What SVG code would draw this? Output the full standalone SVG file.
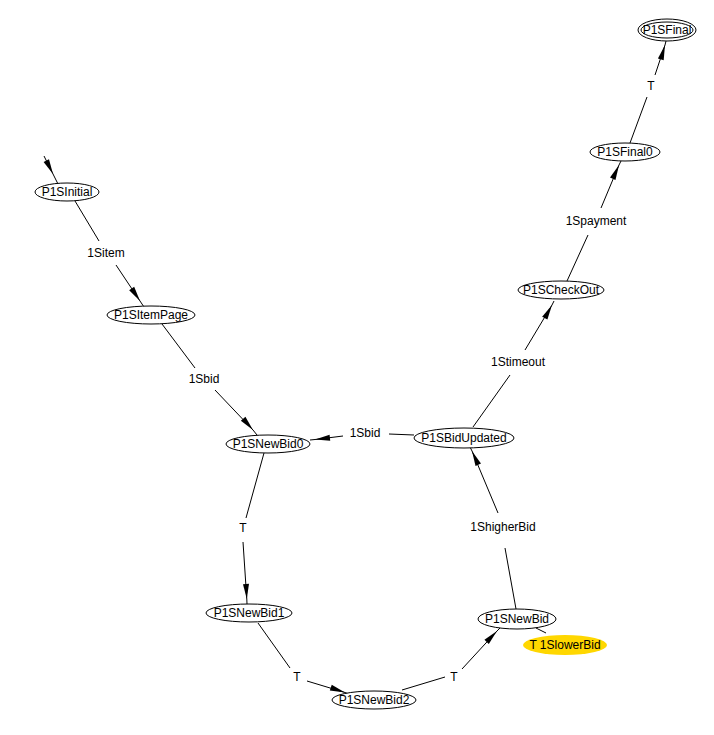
<svg xmlns="http://www.w3.org/2000/svg" width="714" height="735" viewBox="0 0 714 735">
<style>
.n ellipse{fill:#fff;stroke:#000;stroke-width:1}
text{font-family:"Liberation Sans",Arial,sans-serif;font-size:12px;fill:#000;text-anchor:middle}
.e path{fill:none;stroke:#000;stroke-width:1}
.e .a{marker-mid:url(#arr)}
</style>
<defs>
<marker id="arr" viewBox="-16 -5 17 10" markerWidth="17" markerHeight="10" refX="0" refY="0" orient="auto" markerUnits="userSpaceOnUse">
<path d="M0,0 L-15,-3 L-15,3 z" fill="#000"/>
</marker>
</defs>
<rect width="714" height="735" fill="#fff"/>
<g id="edges" class="e">
<path class="a" d="M44,156 L53,174 L58,184"/>
<path d="M75,201 L99,241"/><path class="a" d="M116,265 L140,301 L144,307"/><text x="106" y="257">1Sitem</text>
<path d="M162,324 L195,368"/><path class="a" d="M215,390 L253,430 L257,435"/><text x="204" y="383">1Sbid</text>
<path d="M414,435 L389,434"/><path class="a" d="M343,436 L315,439.5 L310,440"/><text x="365" y="437">1Sbid</text>
<path d="M264,453 L246,518"/><path class="a" d="M243,542 L246.8,599 L247,604"/><text x="243" y="532">T</text>
<path d="M258,623 L290,668"/><path class="a" d="M307,681 L345,692.5 L349,694"/><text x="297" y="681">T</text>
<path d="M402,690 L445,677"/><path class="a" d="M462,669 L497,631 L500,628"/><text x="454" y="681">T</text>
<path d="M516,609 L505,548"/><path class="a" d="M498,513 L472,451 L470,447"/><text x="503" y="531">1ShigherBid</text>
<path d="M536,628 L546,633"/>
<path d="M473,427 L510,375"/><path class="a" d="M525,350 L552,305 L554,301"/><text x="518" y="366">1Stimeout</text>
<path d="M567,281 L588,235"/><path class="a" d="M601,208 L619,165 L621,161"/><text x="596" y="225">1Spayment</text>
<path d="M630,143 L647,97"/><path class="a" d="M655,75 L665,45 L666,41"/><text x="651" y="90">T</text>
</g>
<g id="P1SInitial" class="n"><ellipse cx="67" cy="192" rx="32" ry="9"/><text x="67" y="196">P1SInitial</text></g>
<g id="P1SItemPage" class="n"><ellipse cx="151" cy="315" rx="44" ry="9"/><text x="151" y="319">P1SItemPage</text></g>
<g id="P1SNewBid0" class="n"><ellipse cx="268" cy="444" rx="42" ry="9"/><text x="268" y="448">P1SNewBid0</text></g>
<g id="P1SBidUpdated" class="n"><ellipse cx="464" cy="438" rx="50" ry="10"/><text x="464" y="442">P1SBidUpdated</text></g>
<g id="P1SCheckOut" class="n"><ellipse cx="561" cy="290" rx="43" ry="9"/><text x="561" y="294">P1SCheckOut</text></g>
<g id="P1SFinal0" class="n"><ellipse cx="625" cy="152" rx="35" ry="9"/><text x="625" y="156">P1SFinal0</text></g>
<g id="P1SFinal" class="n"><ellipse cx="667" cy="30" rx="29" ry="11"/><ellipse cx="667" cy="30" rx="26" ry="8"/><text x="667" y="34">P1SFinal</text></g>
<g id="P1SNewBid1" class="n"><ellipse cx="249" cy="613" rx="43" ry="9"/><text x="249" y="617">P1SNewBid1</text></g>
<g id="P1SNewBid2" class="n"><ellipse cx="374" cy="700" rx="42" ry="9"/><text x="374" y="704">P1SNewBid2</text></g>
<g id="P1SNewBid" class="n"><ellipse cx="517" cy="619" rx="39" ry="10"/><text x="517" y="623">P1SNewBid</text></g>
<g id="T1SlowerBid"><ellipse cx="565" cy="645" rx="42" ry="10" fill="#FFD700"/><text x="565" y="649">T 1SlowerBid</text></g>
</svg>
